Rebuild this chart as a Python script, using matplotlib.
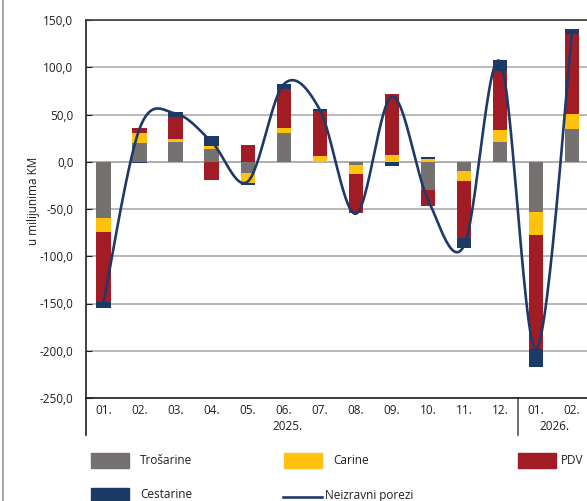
import numpy as np
import matplotlib.pyplot as plt
from matplotlib.lines import Line2D
from matplotlib.patches import Rectangle

plt.rcParams['font.family'] = ['Open Sans', 'DejaVu Sans']

# --- Data (u milijunima KM) ---
months = ["01.", "02.", "03.", "04.", "05.", "06.", "07.", "08.", "09.", "10.", "11.", "12.", "01.", "02."]
trosarine = [-59.0, 19.7, 20.8, 13.0, -12.0, 30.7, 0.0, -3.2, 0.0, -30.4, -10.3, 21.2, -53.4, 34.5]
carine    = [-15.5, 11.0, 3.5, 3.2, -10.0, 5.3, 6.4, -9.5, 7.0, 3.2, -10.2, 12.0, -24.0, 16.3]
pdv       = [-73.5, 5.3, 23.0, -19.0, 17.3, 40.6, 47.0, -41.7, 65.0, -16.6, -60.5, 62.5, -120.8, 84.4]
cestarine = [-7.0, -1.5, 5.8, 10.9, -3.0, 5.3, 2.1, 0.0, -4.2, 2.3, -10.5, 11.6, -19.5, 4.9]
neizravni = [-149.0, 35.0, 51.0, 21.0, -21.0, 82.0, 55.0, -55.0, 69.0, -40.0, -89.0, 106.0, -198.0, 138.0]

series = [("Trošarine", trosarine, "#767171"),
          ("Carine", carine, "#ffc20e"),
          ("PDV", pdv, "#a11c24"),
          ("Cestarine", cestarine, "#1c3a66")]
line_color = "#1f3a68"

W, H = 587, 501
fig = plt.figure(figsize=(W / 100, H / 100), dpi=100)
ax = fig.add_axes([86 / W, (H - 398) / H, (W - 86) / W, 378 / H])

x = np.arange(len(months))
pos_bottom = np.zeros(len(months))
neg_bottom = np.zeros(len(months))
for name, vals, col in series:
    v = np.array(vals)
    bottom = np.where(v >= 0, pos_bottom, neg_bottom)
    ax.bar(x, v, 0.4, bottom=bottom, color=col, zorder=3)
    pos_bottom += np.where(v >= 0, v, 0)
    neg_bottom += np.where(v < 0, v, 0)


# smoothed line like Excel (Catmull-Rom through the points)
def smooth(xs, ys, n=30):
    xs = np.asarray(xs, float)
    ys = np.asarray(ys, float)
    px = np.concatenate([[xs[0]], xs, [xs[-1]]])
    py = np.concatenate([[ys[0]], ys, [ys[-1]]])
    outx, outy = [], []
    t = np.linspace(0, 1, n)
    for i in range(1, len(px) - 2):
        p0x, p1x, p2x, p3x = px[i - 1], px[i], px[i + 1], px[i + 2]
        p0y, p1y, p2y, p3y = py[i - 1], py[i], py[i + 1], py[i + 2]
        c1x, c1y = p1x + (p2x - p0x) / 6, p1y + (p2y - p0y) / 6
        c2x, c2y = p2x - (p3x - p1x) / 6, p2y - (p3y - p1y) / 6
        bx = (1 - t) ** 3 * p1x + 3 * (1 - t) ** 2 * t * c1x + 3 * (1 - t) * t ** 2 * c2x + t ** 3 * p2x
        by = (1 - t) ** 3 * p1y + 3 * (1 - t) ** 2 * t * c1y + 3 * (1 - t) * t ** 2 * c2y + t ** 3 * p2y
        outx.extend(bx)
        outy.extend(by)
    return np.array(outx), np.array(outy)


sx, sy = smooth(x, neizravni)
ax.plot(sx, sy, color=line_color, lw=1.9, zorder=4, solid_capstyle="round")

ax.set_xlim(-0.486, -0.486 + (W - 86) / 36.05)
ax.set_ylim(-250, 150)
ax.set_yticks(np.arange(-250, 151, 50))
ax.set_yticklabels([f"{v:.1f}".replace(".", ",") for v in np.arange(-250, 151, 50)])
ax.set_xticks(x)
ax.set_xticklabels(months)
ax.tick_params(axis="x", length=0, pad=4, labelsize=8.5, colors="#231f20")
ax.tick_params(axis="y", length=4, direction="in", pad=9, labelsize=8.5, colors="#231f20")
ax.grid(axis="y", color="#b3b3b3", lw=1.3, zorder=0)
ax.axhline(0, color="#8c8c8c", lw=1.3, zorder=1)

ax.spines["right"].set_visible(False)
ax.spines["top"].set_color("#3a3a3a")
ax.spines["bottom"].set_color("#231f20")
ax.spines["left"].set_color("#231f20")
for s in ["top", "bottom", "left"]:
    ax.spines[s].set_linewidth(1.2)

# extended axis and year separator
ext = 37 / 378
ax.plot([-0.486, -0.486], [0, -ext], transform=ax.get_xaxis_transform(),
        color="#231f20", lw=1.2, clip_on=False)
ax.plot([11.5, 11.5], [0, -ext], transform=ax.get_xaxis_transform(),
        color="#555555", lw=1.2, clip_on=False)
ax.text(5.1, -28 / 378, "2025.", transform=ax.get_xaxis_transform(),
        ha="center", va="center", fontsize=8.5, color="#231f20")
ax.text(12.5, -28 / 378, "2026.", transform=ax.get_xaxis_transform(),
        ha="center", va="center", fontsize=8.5, color="#231f20")

fig.text(33 / W, 1 - 201 / H, "u milijunima KM", rotation=90, ha="center", va="center",
         fontsize=8.5, color="#231f20")

# left border of the figure
fig.add_artist(Line2D([2.5 / W, 2.5 / W], [0, 1], color="#9a9a9a", lw=1.2))

# legend drawn by hand
def fx(px):
    return px / W


def fy(py):
    return 1 - py / H


legend_items = [("Trošarine", "#767171", 91, 460),
                ("Carine", "#ffc20e", 284, 460),
                ("PDV", "#a11c24", 518, 460),
                ("Cestarine", "#1c3a66", 91, 495)]
for name, col, lx, ly in legend_items:
    fig.add_artist(Rectangle((fx(lx), fy(ly + 7.5)), 38 / W, 15 / H, color=col,
                             transform=fig.transFigure))
    fig.text(fx(lx + 49 if lx < 500 else lx + 43), fy(ly), name, ha="left", va="center",
             fontsize=8.5, color="#231f20")
fig.add_artist(Line2D([fx(283), fx(322)], [fy(496.5), fy(496.5)], color=line_color, lw=1.9))
fig.text(fx(325), fy(495), "Neizravni porezi", ha="left", va="center", fontsize=8.5, color="#231f20")

fig.savefig("out.png", dpi=100)
